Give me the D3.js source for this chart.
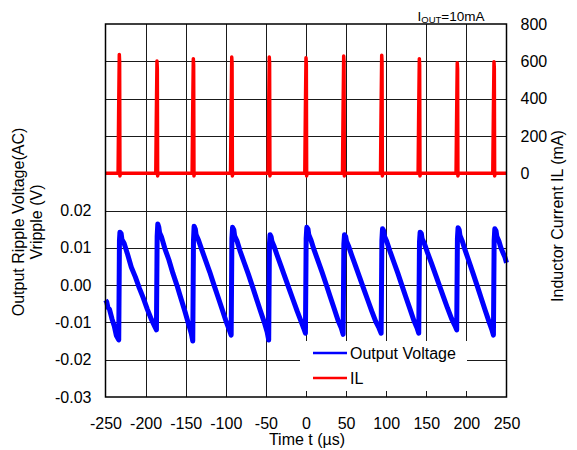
<!DOCTYPE html>
<html>
<head>
<meta charset="utf-8">
<script src="https://cdn.jsdelivr.net/npm/d3@7"></script>
<style>
  html, body { margin: 0; padding: 0; background: #fff; }
  svg text { font-family: "Liberation Sans", Arial, sans-serif; fill: #000; }
</style>
</head>
<body>
<svg id="chart" width="577" height="450"></svg>
<script>
// ---------- data ----------
const xTicks = [-250, -200, -150, -100, -50, 0, 50, 100, 150, 200, 250];
const leftTicks = [-0.03, -0.02, -0.01, 0.00, 0.01, 0.02];
const rightTicks = [0, 200, 400, 600, 800];
const gridY = [-1000, -800, -600, -400, -200, 0, 200, 400, 600];
const gridX = [-200, -150, -100, -50, 0, 50, 100, 150, 200];

// Output voltage ripple (V) vs time (us)
const vTime = [
  -250, -248.5, -247, -245, -242, -239, -236.5, -233.5,
  -232.6, -232.0, -230.5, -229.5, -226.8, -222.8, -217.8, -212.8, -207.8, -202.8, -197.8, -192.8, -188.8, -186.5,
  -185.6, -184.8, -183.5, -182.5, -180, -176, -171, -166, -161, -156, -151, -146, -143, -141.2,
  -140.3, -139.5, -138, -137, -134, -130, -125, -120, -115, -110, -105, -100, -96, -93.3,
  -92.4, -91.6, -90, -89, -86, -82, -77, -72, -67, -62, -57, -52, -48.5, -46.5,
  -45.6, -44.8, -43.5, -42.5, -40, -36, -31, -26, -21, -16, -11, -6, -3, -0.7,
  0.2, 1.0, 2.5, 3.5, 6, 10, 15, 20, 25, 30, 35, 40, 44, 46.3,
  47.2, 48, 49.5, 50.5, 53, 57, 62, 67, 72, 77, 82, 87, 91, 93.7,
  94.6, 95.4, 97, 98, 100.5, 104.5, 109.5, 114.5, 119.5, 124.5, 129.5, 134.5, 138.5, 140.6,
  141.5, 142.3, 143.8, 144.8, 147.5, 151.5, 156.5, 161.5, 166.5, 171.5, 176.5, 181.5, 185.5, 187.9,
  188.8, 189.6, 191, 192, 194.5, 198.5, 203.5, 208.5, 213.5, 218.5, 223.5, 228.5, 231.5, 233.7,
  234.6, 235.4, 237, 238, 240.5, 243, 246, 248, 250
];
const vValue = [
  -0.0040, -0.0045, -0.0060, -0.0065, -0.0090, -0.0110, -0.0135, -0.0147,
  0.0120, 0.0142, 0.0138, 0.0122, 0.0112, 0.0085, 0.0048, 0.0022, -0.0008, -0.0035, -0.0065, -0.0092, -0.0110, -0.0120,
  0.0130, 0.0164, 0.0155, 0.0140, 0.0128, 0.0098, 0.0068, 0.0032, 0.0000, -0.0035, -0.0070, -0.0108, -0.0130, -0.0150,
  0.0120, 0.0158, 0.0150, 0.0135, 0.0120, 0.0095, 0.0065, 0.0035, 0.0002, -0.0030, -0.0062, -0.0095, -0.0118, -0.0134,
  0.0125, 0.0155, 0.0148, 0.0132, 0.0118, 0.0090, 0.0060, 0.0030, -0.0002, -0.0035, -0.0068, -0.0100, -0.0125, -0.0147,
  0.0110, 0.0135, 0.0130, 0.0118, 0.0105, 0.0080, 0.0050, 0.0020, -0.0010, -0.0040, -0.0070, -0.0098, -0.0115, -0.0129,
  0.0125, 0.0155, 0.0150, 0.0135, 0.0122, 0.0095, 0.0065, 0.0035, 0.0003, -0.0030, -0.0062, -0.0095, -0.0115, -0.0132,
  0.0110, 0.0135, 0.0130, 0.0118, 0.0105, 0.0080, 0.0050, 0.0020, -0.0010, -0.0040, -0.0070, -0.0098, -0.0115, -0.0129,
  0.0120, 0.0151, 0.0145, 0.0130, 0.0118, 0.0092, 0.0062, 0.0032, 0.0000, -0.0032, -0.0063, -0.0095, -0.0115, -0.0129,
  0.0115, 0.0142, 0.0138, 0.0124, 0.0112, 0.0087, 0.0058, 0.0028, -0.0002, -0.0032, -0.0062, -0.0090, -0.0108, -0.0120,
  0.0125, 0.0154, 0.0148, 0.0133, 0.0120, 0.0093, 0.0062, 0.0030, -0.0002, -0.0035, -0.0068, -0.0100, -0.0118, -0.0134,
  0.0120, 0.0151, 0.0145, 0.0130, 0.0118, 0.0100, 0.0085, 0.0075, 0.0060
];

// Inductor current IL (mA) vs time (us)
const iTime = [
  -250,
  -234.3, -233.6, -232.8, -232.4, -232.0, -231.3,
  -187.3, -186.6, -185.8, -185.4, -185.0, -184.3,
  -142.0, -141.3, -140.5, -140.1, -139.7, -139.0,
  -94.1, -93.4, -92.6, -92.2, -91.8, -91.1,
  -47.3, -46.6, -45.8, -45.4, -45.0, -44.3,
  -1.5, -0.8, 0, 0.4, 0.8, 1.5,
  45.5, 46.2, 47.0, 47.4, 47.8, 48.5,
  92.9, 93.6, 94.4, 94.8, 95.2, 95.9,
  139.8, 140.5, 141.3, 141.7, 142.1, 142.8,
  187.1, 187.8, 188.6, 189.0, 189.4, 190.1,
  232.9, 233.6, 234.4, 234.8, 235.2, 235.9,
  250
];
const iValue = [
  0,
  0, 330, 637, 600, -15, 0,
  0, 310, 601, 560, -15, 0,
  0, 320, 614, 580, -15, 0,
  0, 320, 623, 590, -15, 0,
  0, 320, 623, 590, -15, 0,
  0, 320, 619, 585, -15, 0,
  0, 320, 628, 595, -15, 0,
  0, 330, 633, 600, -15, 0,
  0, 320, 614, 580, -15, 0,
  0, 300, 592, 560, -15, 0,
  0, 300, 597, 565, -15, 0,
  0
];

const legendLabels = ["Output Voltage", "IL"];
const seriesColors = ["#0000ff", "#ff0000"];

// ---------- chart ----------
const svg = d3.select("#chart");
const L = 105.5, R = 506.5, T = 24, B = 397;

const x = d3.scaleLinear().domain([-250, 250]).range([L, R]);
const yL = d3.scaleLinear().domain([-0.03, 0.07]).range([B, T]);
const yR = d3.scaleLinear().domain([-1200, 800]).range([B, T]);

// grid
const grid = svg.append("g").attr("stroke", "#1a1a1a").attr("stroke-width", 1);
grid.selectAll("line.gx").data(gridX).join("line")
  .attr("x1", d => Math.round(x(d)) + 0.5).attr("x2", d => Math.round(x(d)) + 0.5)
  .attr("y1", T).attr("y2", B);
grid.selectAll("line.gy").data(gridY).join("line")
  .attr("y1", d => Math.round(yR(d)) + 0.5).attr("y2", d => Math.round(yR(d)) + 0.5)
  .attr("x1", L).attr("x2", R);

// lines
const vData = vTime.map((t, i) => [t, vValue[i]]);
const iData = iTime.map((t, i) => [t, iValue[i]]);

svg.append("path").datum(iData)
  .attr("fill", "none").attr("stroke", seriesColors[1]).attr("stroke-width", 3.5)
  .attr("stroke-linejoin", "round")
  .attr("d", d3.line().x(d => x(d[0])).y(d => yR(d[1])));

svg.append("path").datum(vData)
  .attr("fill", "none").attr("stroke", seriesColors[0]).attr("stroke-width", 5)
  .attr("stroke-linejoin", "round")
  .attr("d", d3.line().x(d => x(d[0])).y(d => yL(d[1])));

// legend box
const lg = svg.append("g");
lg.append("rect").attr("x", 300).attr("y", 341).attr("width", 167).attr("height", 50).attr("fill", "#fff");
legendLabels.forEach((lab, i) => {
  const yy = 353 + i * 25;
  lg.append("line").attr("x1", 313).attr("x2", 347).attr("y1", yy).attr("y2", yy)
    .attr("stroke", seriesColors[i]).attr("stroke-width", 2.5);
  lg.append("text").attr("x", 350).attr("y", yy).attr("dy", "0.35em")
    .attr("font-size", 16).text(lab);
});

// border
svg.append("rect").attr("x", L).attr("y", T).attr("width", R - L).attr("height", B - T)
  .attr("fill", "none").attr("stroke", "#000").attr("stroke-width", 1.5);

// axes
const xAxis = svg.append("g").attr("transform", `translate(0,${B})`)
  .call(d3.axisBottom(x).tickValues(xTicks).tickSize(0).tickPadding(21).tickFormat(d3.format("d")));
const lAxis = svg.append("g").attr("transform", `translate(${L},0)`)
  .call(d3.axisLeft(yL).tickValues(leftTicks).tickSize(0).tickPadding(14).tickFormat(d3.format(".2f")));
const rAxis = svg.append("g").attr("transform", `translate(${R},0)`)
  .call(d3.axisRight(yR).tickValues(rightTicks).tickSize(0).tickPadding(14).tickFormat(d3.format("d")));
[xAxis, lAxis, rAxis].forEach(a => {
  a.select(".domain").remove();
  a.selectAll("text").attr("font-size", 16).attr("font-family", "Liberation Sans, Arial, sans-serif").attr("fill", "#000");
});
lAxis.selectAll("text").text(d => d3.format(".2f")(d).replace("\u2212", "-"));
xAxis.selectAll("text").text(d => String(d));

// titles
svg.append("text").attr("x", 307).attr("y", 445).attr("text-anchor", "middle")
  .attr("font-size", 16).text("Time t (\u00b5s)");
svg.append("text").attr("transform", "translate(23.5,222) rotate(-90)").attr("text-anchor", "middle")
  .attr("font-size", 16).text("Output Ripple Voltage(AC)");
svg.append("text").attr("transform", "translate(41.5,222) rotate(-90)").attr("text-anchor", "middle")
  .attr("font-size", 16).text("Vripple (V)");
svg.append("text").attr("transform", "translate(563,216) rotate(-90)").attr("text-anchor", "middle")
  .attr("font-size", 16).text("Inductor Current IL (mA)");

const ann = svg.append("text").attr("x", 417.5).attr("y", 21).attr("font-size", 13.5);
ann.append("tspan").text("I");
ann.append("tspan").attr("font-size", 9.5).attr("dy", 1.5).text("OUT");
ann.append("tspan").attr("dy", -1.5).text("=10mA");
</script>
</body>
</html>
